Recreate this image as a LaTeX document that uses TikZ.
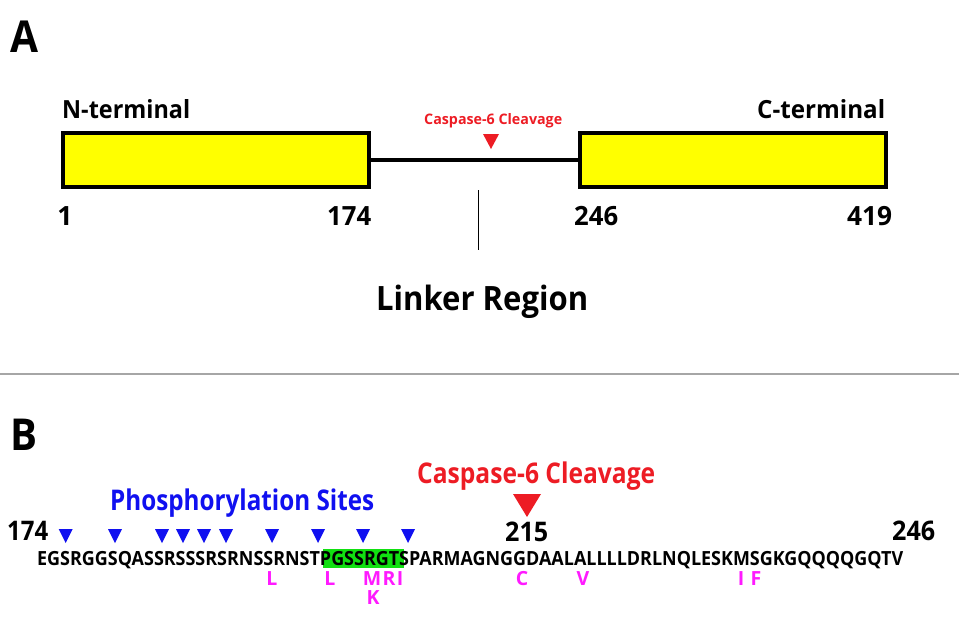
\documentclass[tikz,border=0pt]{standalone}
\usepackage{fontspec}
\setmainfont{Open Sans}
\usepackage{graphicx}
\definecolor{cred}{HTML}{ED1C24}
\definecolor{cblue}{HTML}{1010F0}
\definecolor{cmag}{HTML}{FF1AFF}
\definecolor{cgreen}{HTML}{11E011}
\definecolor{cyellow}{HTML}{FFFF00}
\newsavebox\tbox
% scale text horizontally to a given width (pt), keeping its height
\newcommand\fx[2]{\sbox\tbox{#2}\pgfmathsetmacro\fxf{#1/\wd\tbox}\scalebox{\fxf}[1]{\usebox\tbox}}
\newcommand\fs[1]{\fontsize{#1}{#1}\selectfont}
\newcommand\dtri[5]{\fill[#1] (#2-#4/2,#3) -- (#2+#4/2,#3) -- (#2,#3+#5) -- cycle;}
\begin{document}
\begin{tikzpicture}[x=1pt,y=-1pt,
  txt/.style={inner sep=0pt, anchor=base west, font=\bfseries},
  mut/.style={inner sep=0pt, anchor=base, font=\bfseries\fs{19.5}, text=cmag},
  dombox/.style={draw=black, line width=4pt, fill=cyellow, minimum width=306pt, minimum height=54pt, inner sep=0pt}]
\useasboundingbox (0,0) rectangle (959,621);
% ---------- Panel A ----------
\node[txt] (labA) at (10,52) {\fx{28}{\fs{44}A}};
\node[txt] (nlab) at (62,118) {\fx{128}{\fs{25}N-terminal}};
\node[txt] (clab) at (757,118) {\fx{128}{\fs{25}C-terminal}};
\node[dombox] (nterm) at (216,160) {};
\node[dombox] (cterm) at (733,160) {};
\draw[line width=4pt] (nterm.east) -- (cterm.west);
\node[txt, text=cred] (caspA) at (424,124) {\fx{138}{\fs{14.5}Caspase-6 Cleavage}};
\dtri{cred}{491}{134}{16}{15}
\node[inner sep=0pt, anchor=base, font=\bfseries\fs{26.5}] (n1) at (65,225) {1};
\node[txt] (n174) at (327,225) {\fx{44}{\fs{26.5}174}};
\node[txt] (n246) at (574,225) {\fx{44}{\fs{26.5}246}};
\node[txt] (n419) at (847,225) {\fx{45}{\fs{26.5}419}};
\coordinate (vtop) at (478,190);
\coordinate (vbot) at (478,250);
\draw[line width=1pt] (vtop) -- (vbot);
\node[txt] (linker) at (376,310) {\fx{212}{\fs{33.5}Linker Region}};
% separator
\coordinate (sepL) at (0,374);
\coordinate (sepR) at (959,374);
\draw[line width=1.5pt, black!35] (sepL) -- (sepR);
% ---------- Panel B ----------
\node[txt] (labB) at (10,450) {\fx{27}{\fs{44}B}};
\node[txt, text=cred] (caspB) at (417,483) {\fx{238}{\fs{28.5}Caspase-6 Cleavage}};
\dtri{cred}{527}{494}{28}{23}
\node[txt, text=cblue] (phos) at (110,510) {\fx{264}{\fs{28.5}Phosphorylation Sites}};
\node[txt] (b174) at (7,540) {\fx{41}{\fs{27}174}};
\node[txt] (b215) at (505,541) {\fx{43}{\fs{27}215}};
\node[txt] (b246) at (892,540) {\fx{43}{\fs{27}246}};
% phosphorylation triangles
\foreach \px in {65.7,115,162,183,204,226,272,318,363,408}{\dtri{cblue}{\px}{529}{14}{14}}
% green highlight
\fill[cgreen] (323,549) rectangle (404,568);
\node[txt] (seq) at (37,565) {\fx{866}{\fs{19.5}EGSRGGSQASSRSSSRSRNSSRNSTPGSSRGTSPARMAGNGGDAALALLLLDRLNQLESKMSGKGQQQQGQTV}};
% mutations
\node[mut] (m1) at (272,585) {L};
\node[mut] (m2) at (330,585) {L};
\node[mut] (m3) at (372,585) {M};
\node[mut] (m4) at (389,585) {R};
\node[mut] (m5) at (400,585) {I};
\node[mut] (m6) at (373,604) {K};
\node[mut] (m7) at (522,585) {C};
\node[mut] (m8) at (583,585) {V};
\node[mut] (m9) at (741,585) {I};
\node[mut] (m10) at (756,585) {F};
\end{tikzpicture}
\end{document}
